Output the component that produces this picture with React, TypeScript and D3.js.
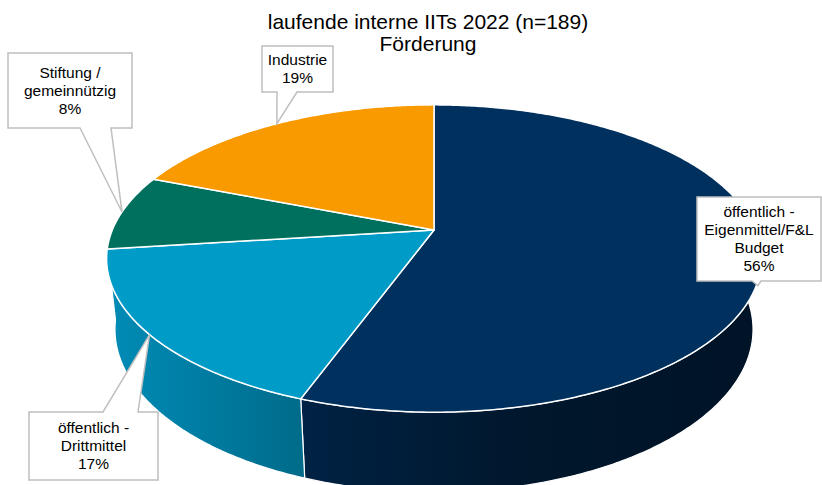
import * as d3 from "d3";
import React, { useEffect, useRef } from "react";

// Daten
const categories = [
  "öffentlich - Eigenmittel/F&L Budget",
  "öffentlich - Drittmittel",
  "Stiftung / gemeinnützig",
  "Industrie",
];
const counts = [105, 33, 15, 36];
const percentLabels = ["56%", "17%", "8%", "19%"];
const labelLines = [
  ["öffentlich -", "Eigenmittel/F&L", "Budget"],
  ["öffentlich -", "Drittmittel"],
  ["Stiftung /", "gemeinnützig"],
  ["Industrie"],
];
const titleLines = ["laufende interne IITs 2022 (n=189)", "Förderung"];

const topColors = ["#00305E", "#009BC7", "#00705E", "#F89A00"];
const wallColors = [
  ["#002244", "#00172C", "#001327"],
  ["#008CB6", "#007CA2", "#006C8A"],
  ["#005E4F", "#005446", "#004A3E"],
  ["#D08100", "#C07600", "#B06C00"],
];

// Beschriftungsboxen (Layout)
const callouts = [
  { x: 697, y: 197, w: 124, h: 84, side: "bottom", b0: 752, b1: 761, drop: 0.4 },
  { x: 29, y: 412, w: 129, h: 68, side: "top", b0: 103, b1: 138, drop: 0 },
  { x: 8, y: 53, w: 124, h: 75, side: "bottom", b0: 80, b1: 111, drop: 0 },
  { x: 262, y: 46, w: 71, h: 46, side: "bottom", b0: 277, b1: 297, drop: 0 },
];

const App = () => {
  const svgRef = useRef<SVGSVGElement>(null);

  useEffect(() => {
    const width = 822;
    const height = 485;
    const svg = d3.select(svgRef.current).attr("width", width).attr("height", height);
    svg.selectAll("*").remove();

    // 3D-Projektion (Perspektive)
    const cx = 434;
    const cy = 230;
    const elev = (28 * Math.PI) / 180;
    const dist = 4.756;
    const fx = 1530;
    const fy = 1503;
    const depth = 0.257;
    const projectPoint = (u: number, v: number, y: number): [number, number] => {
      const up = v * Math.sin(elev) + y * Math.cos(elev);
      const dz = v * Math.cos(elev) - y * Math.sin(elev);
      const den = dist + dz;
      return [cx + (fx * u) / den, cy - (fy * up) / den];
    };
    const project = (a: number, y: number) => projectPoint(Math.sin(a), Math.cos(a), y);
    const center = projectPoint(0, 0, 0);

    const pie = d3.pie<number>().sort(null).value((d) => d);
    const arcs = pie(counts);

    const sample = (a0: number, a1: number) => {
      const pts = d3.range(a0, a1, 0.01);
      pts.push(a1);
      return pts;
    };
    const line = d3.line().curve(d3.curveLinearClosed);

    const defs = svg.append("defs");
    const wallX = [
      [300, 760],
      [106, 301],
      [106, 200],
      [150, 434],
    ];
    arcs.forEach((a, i) => {
      const g = defs
        .append("linearGradient")
        .attr("id", `wall${i}`)
        .attr("gradientUnits", "userSpaceOnUse")
        .attr("x1", wallX[i][0])
        .attr("x2", wallX[i][1])
        .attr("y1", 0)
        .attr("y2", 0);
      wallColors[i].forEach((c, k) => {
        g.append("stop").attr("offset", k / (wallColors[i].length - 1)).attr("stop-color", c);
      });
    });

    // Seitenwände: hinten zuerst
    const wallOrder = [3, 2, 0, 1];
    wallOrder.forEach((i) => {
      const a = arcs[i];
      const angs = sample(a.startAngle, a.endAngle);
      const pts = [
        ...angs.map((t) => project(t, 0)),
        ...angs
          .slice()
          .reverse()
          .map((t) => project(t, -depth)),
      ];
      svg
        .append("path")
        .attr("d", line(pts))
        .attr("fill", `url(#wall${i})`)
        .attr("stroke", "#ffffff")
        .attr("stroke-width", 1.2)
        .attr("stroke-linejoin", "round");
    });

    // Deckflächen
    arcs.forEach((a, i) => {
      const angs = sample(a.startAngle, a.endAngle);
      const pts: [number, number][] = [center, ...angs.map((t) => project(t, 0))];
      svg
        .append("path")
        .attr("d", line(pts))
        .attr("fill", topColors[i])
        .attr("stroke", "#ffffff")
        .attr("stroke-width", 1.5)
        .attr("stroke-linejoin", "round");
    });

    // Titel
    svg
      .append("text")
      .attr("x", 428)
      .attr("y", 29)
      .attr("text-anchor", "middle")
      .style("font-family", "'Liberation Sans', Arial, sans-serif")
      .style("font-size", "21px")
      .attr("fill", "#000")
      .selectAll("tspan")
      .data(titleLines)
      .join("tspan")
      .attr("x", 428)
      .attr("dy", (d, k) => (k === 0 ? 0 : 22))
      .text((d) => d);

    // Beschriftungen mit Zeiger
    arcs.forEach((a, i) => {
      const c = callouts[i];
      const mid = (a.startAngle + a.endAngle) / 2;
      const tip = project(mid, -depth * c.drop);
      const p = d3.path();
      if (c.side === "bottom") {
        p.moveTo(c.x, c.y);
        p.lineTo(c.x + c.w, c.y);
        p.lineTo(c.x + c.w, c.y + c.h);
        p.lineTo(c.b1, c.y + c.h);
        p.lineTo(tip[0], tip[1]);
        p.lineTo(c.b0, c.y + c.h);
        p.lineTo(c.x, c.y + c.h);
      } else {
        p.moveTo(c.x, c.y);
        p.lineTo(c.b0, c.y);
        p.lineTo(tip[0], tip[1]);
        p.lineTo(c.b1, c.y);
        p.lineTo(c.x + c.w, c.y);
        p.lineTo(c.x + c.w, c.y + c.h);
        p.lineTo(c.x, c.y + c.h);
      }
      p.closePath();
      svg
        .append("path")
        .attr("d", p.toString())
        .attr("fill", "#ffffff")
        .attr("stroke", "#BFBFBF")
        .attr("stroke-width", 1.5);

      const lines = [...labelLines[i], percentLabels[i]];
      const lh = 18;
      const y0 = c.y + c.h / 2 - ((lines.length - 1) * lh) / 2;
      svg
        .append("g")
        .selectAll("text")
        .data(lines)
        .join("text")
        .attr("x", c.x + c.w / 2)
        .attr("y", (d, k) => y0 + k * lh)
        .attr("dy", "0.35em")
        .attr("text-anchor", "middle")
        .style("font-family", "'Liberation Sans', Arial, sans-serif")
        .style("font-size", "15.5px")
        .attr("fill", "#000")
        .text((d) => d);
    });
  }, []);

  return (
    <svg
      ref={svgRef}
      style={{ position: "absolute", left: 0, top: 0, display: "block", background: "#fff" }}
    ></svg>
  );
};

export default App;
